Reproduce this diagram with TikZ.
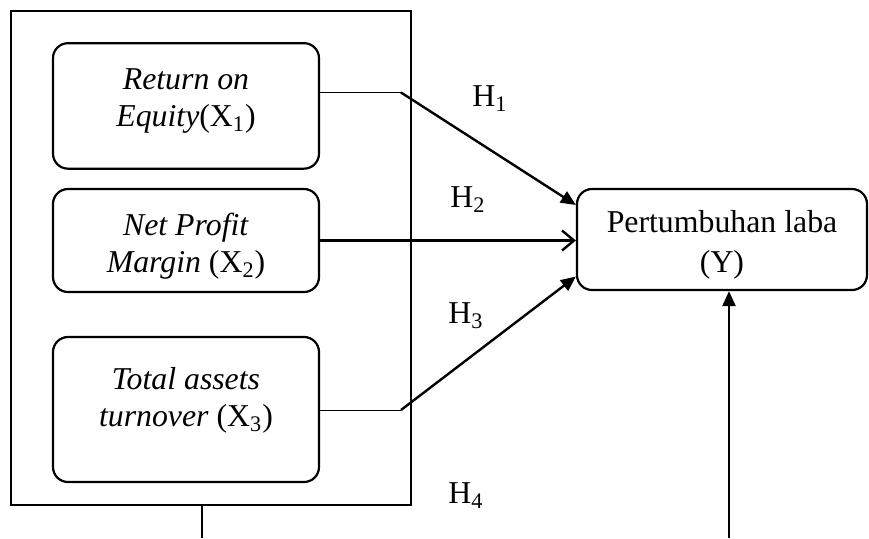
\documentclass[tikz,border=0pt]{standalone}
\usepackage{fontspec}
\setmainfont{Liberation Serif}
\usetikzlibrary{arrows.meta,calc}

\begin{document}
\begin{tikzpicture}[x=0.5pt,y=-0.5pt,
    every node/.style={font=\fontsize{15.9}{18.5}\selectfont},
    var/.style={draw, rounded corners=7.5pt, line width=1.1pt, align=center, minimum width=133pt, inner sep=0pt},
    stub/.style={line width=0.5pt},
    path/.style={line width=1.2pt, -{Triangle[length=7.5pt,width=6.5pt]}},
    hyp/.style={anchor=base west, inner sep=0pt}]
    \useasboundingbox (0,0) rectangle (869,538);
    \node[draw, line width=0.8pt, minimum width=200pt, minimum height=247pt, inner sep=0pt] (frame) at (211,258) {};
    \node[var, minimum height=62.75pt] (roe) at (186,105.9) {\textit{Return on}\\\textit{Equity}(X\textsubscript{1})\rule[-8.5pt]{0pt}{0pt}};
    \node[var, minimum height=51.5pt] (npm) at (186,240.5) {\rule{0pt}{17pt}\textit{Net Profit}\\\textit{Margin} (X\textsubscript{2})};
    \node[var, minimum height=72.5pt] (tat) at (186,409.5) {\textit{Total assets}\\\textit{turnover} (X\textsubscript{3})\rule[-13pt]{0pt}{0pt}};
    \node[var, minimum width=145pt, minimum height=50.5pt] (laba) at (722,239.5) {\rule{0pt}{16pt}Pertumbuhan laba\\[1.5pt](Y)};
    \coordinate (k1) at (401,92.5);
    \coordinate (k3) at (401,410);
    \coordinate (b1) at (202,538);
    \coordinate (b2) at (729,538);
    \draw[stub] (roe.east |- k1) -- (k1);
    \draw[path] (k1) -- ($(laba.west)+(0,-34.5)$);
    \draw[line width=1.2pt, -{Straight Barb[length=6pt,width=10pt]}] (npm.east) -- (npm.east -| laba.west);
    \draw[stub] (tat.east |- k3) -- (k3);
    \draw[path] (k3) -- ($(laba.west)+(0,37)$);
    \draw[line width=0.8pt] (frame.south -| b1) -- (b1);
    \draw[path] (b2) -- (b2 |- laba.south);
    \node[hyp] (h1) at (472,106) {H\textsubscript{1}};
    \node[hyp] (h2) at (450,207) {H\textsubscript{2}};
    \node[hyp] (h3) at (448,323) {H\textsubscript{3}};
    \node[hyp] (h4) at (448,503) {H\textsubscript{4}};
\end{tikzpicture}
\end{document}
